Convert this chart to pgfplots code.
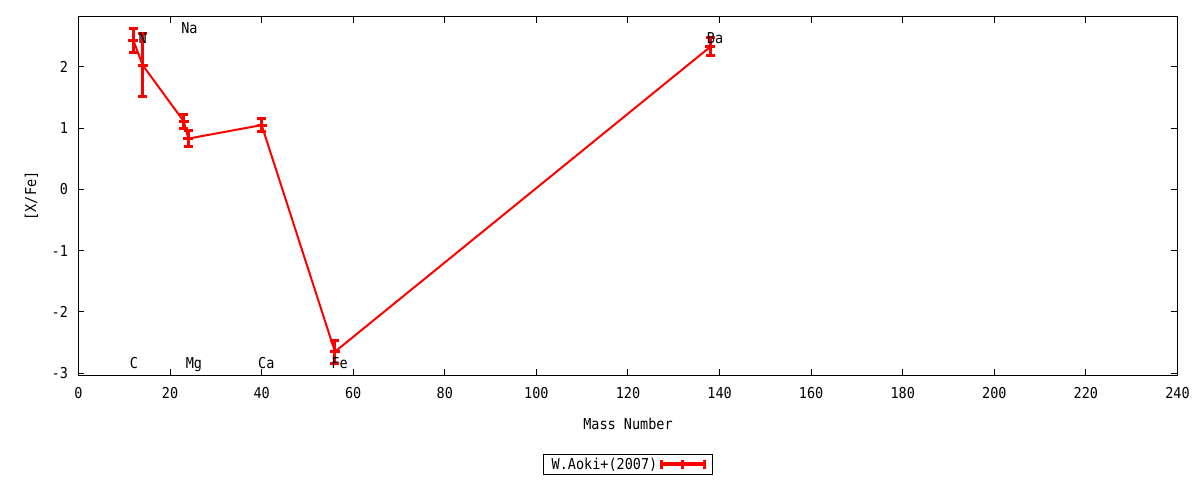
\documentclass[border=0pt]{standalone}
\usepackage{pgfplots}
\pgfplotsset{compat=1.18}
\usepackage{fontspec}
\setmainfont{DejaVu Sans Mono}[FakeStretch=0.9]
\pgfplotstableread{
x y e
12 2.43 0.19
14 2.03 0.52
23 1.11 0.12
24 0.83 0.13
40 1.05 0.11
56 -2.65 0.19
138 2.33 0.15
}\aoki
\begin{document}
\begin{tikzpicture}
\path[use as bounding box] (0,0) rectangle (1200bp,480bp);
\begin{axis}[
  at={(78.5bp,105bp)}, anchor=south west,
  scale only axis, width=1099bp, height=358bp,
  xmin=0, xmax=240, ymin=-3.03, ymax=2.815,
  xtick={0,20,...,240}, ytick={-3,-2,-1,0,1,2},
  tick align=inside, major tick length=6bp,
  every tick/.style={black, line width=1bp},
  axis line style={line width=1bp},
  font=\fontsize{15bp}{18bp}\selectfont,
  /pgf/number format/assume math mode=true,
  xticklabel style={yshift=-9bp},
  yticklabel style={xshift=-7bp},
  xlabel={Mass Number}, ylabel={[X/Fe]},
  xlabel style={at={(axis description cs:0.5,-0.1365)}, anchor=center},
  ylabel style={at={(axis description cs:-0.0428,0.5)}, anchor=center},
  legend style={at={(0.5,-0.22)}, anchor=north, draw=black, line width=1bp,
    font=\fontsize{15bp}{18bp}\selectfont, inner xsep=6.5bp, inner ysep=1.5bp},
  legend plot pos=right,
  legend image code/.code={
    \draw[red, line width=4bp] (0bp,0bp) -- (43bp,0bp);
    \draw[red, line width=3bp] (0bp,-4.5bp) -- (0bp,4.5bp) (21.5bp,-4.5bp) -- (21.5bp,4.5bp) (43bp,-4.5bp) -- (43bp,4.5bp);
  },
]
\addplot[red, line width=2bp, mark=-, mark size=5bp, mark options={line width=3bp},
  error bars/.cd, y dir=both, y explicit,
  error bar style={line width=3bp, red},
  error mark options={rotate=90, mark size=4.5bp, line width=3bp, red}]
  table[x=x, y=y, y error=e] {\aoki};
\addlegendentry{W.Aoki+(2007)}
\node[anchor=base west, inner sep=0pt] at (axis cs:11.2,-2.93) {C};
\node[anchor=base west, inner sep=0pt] at (axis cs:13.1,2.39) {N};
\node[anchor=base west, inner sep=0pt] at (axis cs:22.4,2.55) {Na};
\node[anchor=base west, inner sep=0pt] at (axis cs:23.4,-2.93) {Mg};
\node[anchor=base west, inner sep=0pt] at (axis cs:39.2,-2.93) {Ca};
\node[anchor=base west, inner sep=0pt] at (axis cs:55.2,-2.93) {Fe};
\node[anchor=base west, inner sep=0pt] at (axis cs:137.2,2.39) {Ba};
\end{axis}
\end{tikzpicture}
\end{document}
